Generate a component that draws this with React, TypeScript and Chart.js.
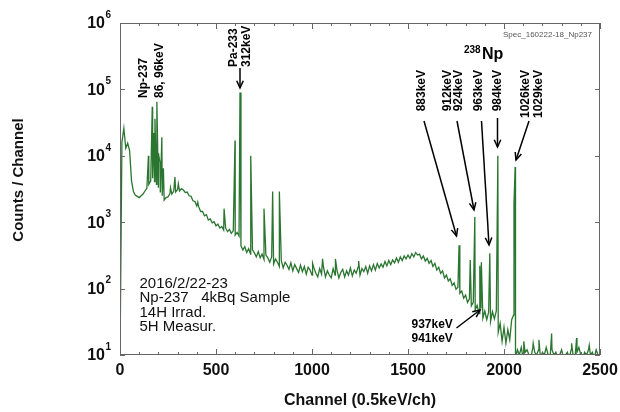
import React, { useEffect, useRef } from "react";
import { Chart, registerables } from "chart.js";

Chart.register(...registerables);

// Spectrum continuum, one reading every 10 channels from channel 0 to 2500
const continuumStep = 10;
const continuumCounts = [
  /*    0 */ 8, 16000, 26000, 13000, 15500, 12000, 4200, 2900, 2550, 2450,
  /*  100 */ 2350, 2500, 2650, 2950, 3250, 3700, 4200, 4600, 4100, 3700,
  /*  200 */ 3300, 2800, 2500, 2150, 2350, 2400, 2700, 2650, 2950, 2850,
  /*  300 */ 3100, 2950, 3200, 3050, 2800, 2850, 2500, 2450, 2100, 2050,
  /*  400 */ 1750, 1700, 1450, 1450, 1250, 1300, 1080, 1120, 980, 1020,
  /*  500 */ 880, 940, 820, 860, 760, 820, 720, 780, 680, 740,
  /*  600 */ 640, 700, 620, 440, 380, 430, 350, 400, 330, 385,
  /*  700 */ 345, 300, 360, 290, 330, 275, 320, 290, 250, 300,
  /*  800 */ 235, 280, 250, 215, 265, 205, 250, 225, 195, 245,
  /*  900 */ 185, 230, 200, 175, 225, 180, 215, 165, 210, 190,
  /* 1000 */ 160, 205, 170, 150, 200, 165, 210, 150, 185, 160,
  /* 1100 */ 145, 200, 160, 190, 145, 175, 195, 150, 185, 160,
  /* 1200 */ 205, 155, 190, 170, 210, 160, 200, 180, 215, 170,
  /* 1300 */ 220, 185, 230, 190, 240, 205, 235, 210, 255, 220,
  /* 1400 */ 265, 230, 270, 245, 290, 250, 300, 265, 310, 280,
  /* 1500 */ 320, 285, 335, 300, 350, 320, 330, 280, 310, 260,
  /* 1600 */ 285, 240, 265, 215, 240, 190, 210, 170, 185, 145,
  /* 1700 */ 160, 130, 140, 112, 122, 98, 105, 85, 92, 72,
  /* 1800 */ 80, 62, 70, 55, 62, 48, 56, 42, 50, 36,
  /* 1900 */ 46, 34, 44, 32, 45, 35, 46, 22, 30, 16,
  /* 2000 */ 26, 15, 24, 17, 34, 40, 9, 12, 10, 13,
  /* 2100 */ 9, 11, 12, 10, 9, 13, 11, 10, 12, 9,
  /* 2200 */ 11, 10, 13, 10, 9, 12, 10, 11, 9, 10,
  /* 2300 */ 12, 9, 10, 11, 9, 12, 10, 9, 11, 13,
  /* 2400 */ 10, 9, 11, 10, 12, 10, 11, 9, 12, 10,
  /* 2500 */ 9,
];

// Gamma peaks (channel, counts at the top)
const peakChannels = [
  148, 168, 176, 182, 192, 200, 208, 218, 226, 263, 286, 304, 405,
  542, 599, 625, 681, 750, 795, 830, 1003, 1055, 1122, 1243,
  1766, 1824, 1848, 1874, 1882, 1926, 1968, 2052, 2058,
  2103, 2152, 2182, 2248, 2352, 2378, 2444,
];
const peakCounts = [
  10000, 55000, 22000, 36000, 65000, 11000, 8000, 19000, 6500, 3300, 4800, 3800, 2000,
  1600, 17000, 90000, 10000, 1600, 2900, 2900, 240, 280, 280, 260,
  450, 270, 1200, 220, 250, 340, 10000, 1900, 6800,
  16, 15, 17, 21, 15, 18, 14,
];

const xTickValues = [0, 500, 1000, 1500, 2000, 2500];
const yTickExponents = [1, 2, 3, 4, 5, 6];

const xTitle = "Channel (0.5keV/ch)";
const yTitle = "Counts / Channel";
const infoLines = ["2016/2/22-23", "Np-237   4kBq Sample", "14H Irrad.", "5H Measur."];
const specId = "Spec_160222-18_Np237";

const FONT = "'Liberation Sans', Arial, Helvetica, sans-serif";

function arrow(ctx: CanvasRenderingContext2D, x1: number, y1: number, x2: number, y2: number) {
  const ang = Math.atan2(y2 - y1, x2 - x1);
  const len = 8;
  const spread = 0.42;
  ctx.beginPath();
  ctx.moveTo(x1, y1);
  ctx.lineTo(x2, y2);
  ctx.stroke();
  ctx.beginPath();
  ctx.moveTo(x2 - len * Math.cos(ang - spread), y2 - len * Math.sin(ang - spread));
  ctx.lineTo(x2, y2);
  ctx.lineTo(x2 - len * Math.cos(ang + spread), y2 - len * Math.sin(ang + spread));
  ctx.stroke();
}

function vtext(ctx: CanvasRenderingContext2D, text: string, cx: number, y: number, align: CanvasTextAlign) {
  ctx.save();
  ctx.translate(cx, y);
  ctx.rotate(-Math.PI / 2);
  ctx.textAlign = align;
  ctx.textBaseline = "middle";
  ctx.fillText(text, 0, 0);
  ctx.restore();
}

const decorPlugin = {
  id: "decor",
  afterDraw(chart: any) {
    const ctx: CanvasRenderingContext2D = chart.ctx;
    const { left, right, top, bottom } = chart.chartArea;
    const xs = chart.scales.x;
    const ys = chart.scales.y;
    ctx.save();

    // frame
    ctx.strokeStyle = "#666";
    ctx.lineWidth = 1;
    ctx.strokeRect(left + 0.5, top + 0.5, right - left - 1, bottom - top - 1);

    // x ticks (inward, top and bottom)
    ctx.beginPath();
    for (let v = 0; v <= 2500; v += 100) {
      const x = Math.round(xs.getPixelForValue(v)) + 0.5;
      const len = v % 500 === 0 ? 6 : 3;
      ctx.moveTo(x, bottom);
      ctx.lineTo(x, bottom - len);
      ctx.moveTo(x, top);
      ctx.lineTo(x, top + len);
    }
    // y ticks
    for (const e of yTickExponents) {
      const y = Math.round(ys.getPixelForValue(Math.pow(10, e))) + 0.5;
      ctx.moveTo(left, y);
      ctx.lineTo(left + 5, y);
      ctx.moveTo(right, y);
      ctx.lineTo(right - 5, y);
    }
    ctx.stroke();

    ctx.fillStyle = "#111";
    // x tick labels
    ctx.font = `bold 16px ${FONT}`;
    ctx.textAlign = "center";
    ctx.textBaseline = "middle";
    for (const v of xTickValues) {
      ctx.fillText(String(v), xs.getPixelForValue(v), 371);
    }
    // y tick labels 10^n
    for (const e of yTickExponents) {
      const y = ys.getPixelForValue(Math.pow(10, e));
      ctx.font = `bold 16px ${FONT}`;
      ctx.textAlign = "right";
      ctx.textBaseline = "middle";
      ctx.fillText("10", 105, y + 1);
      ctx.font = `bold 10px ${FONT}`;
      ctx.textAlign = "left";
      ctx.fillText(String(e), 105.5, y - 8);
    }
    // axis titles
    ctx.font = `bold 16px ${FONT}`;
    ctx.textAlign = "center";
    ctx.textBaseline = "middle";
    ctx.fillText(xTitle, (left + right) / 2, 401);
    ctx.font = `bold 15px ${FONT}`;
    vtext(ctx, yTitle, 19, 180, "center");

    // peak labels
    ctx.fillStyle = "#000";
    ctx.font = `bold 12px ${FONT}`;
    vtext(ctx, "Np-237", 144, 98, "left");
    vtext(ctx, "86, 96keV", 159.5, 98, "left");
    vtext(ctx, "Pa-233", 234, 67, "left");
    vtext(ctx, "312keV", 246.5, 67, "left");
    const rightLabels: [string, number][] = [
      ["883keV", 421.7], ["912keV", 447.5], ["924keV", 459], ["963keV", 479],
      ["984keV", 497.5], ["1026keV", 526], ["1029keV", 538.5],
    ];
    for (const [t, cx] of rightLabels) vtext(ctx, t, cx, 70, "right");

    ctx.textAlign = "left";
    ctx.textBaseline = "alphabetic";
    ctx.fillText("937keV", 411.5, 328);
    ctx.fillText("941keV", 411.5, 342);

    // 238Np
    ctx.font = `bold 10px ${FONT}`;
    ctx.fillText("238", 464, 53);
    ctx.font = `bold 16px ${FONT}`;
    ctx.fillText("Np", 482, 59);

    // spectrum id
    ctx.font = `8px ${FONT}`;
    ctx.fillStyle = "#555";
    ctx.textAlign = "right";
    ctx.fillText(specId, 592, 37);

    // info block
    ctx.fillStyle = "#111";
    ctx.font = `15px ${FONT}`;
    ctx.textAlign = "left";
    infoLines.forEach((t, i) => ctx.fillText(t, 139.5, 287.5 + i * 14.5));

    // arrows
    ctx.strokeStyle = "#000";
    ctx.lineWidth = 1.5;
    arrow(ctx, 240, 68, 240, 88);
    arrow(ctx, 424, 121, 456.5, 236);
    arrow(ctx, 457, 121, 474, 210);
    arrow(ctx, 481.5, 121, 489, 245);
    arrow(ctx, 497.5, 118, 497.5, 147);
    arrow(ctx, 529, 121, 516, 160);
    arrow(ctx, 456.5, 328, 480, 310);

    ctx.restore();
  },
};

export default function App() {
  const ref = useRef<HTMLCanvasElement>(null);
  useEffect(() => {
    if (!ref.current) return;
    const pts = continuumCounts
      .map((y, i) => ({ x: i * continuumStep, y }))
      .concat(peakChannels.map((c, i) => ({ x: c, y: peakCounts[i] })))
      .sort((a, b) => a.x - b.x);
    const chart = new Chart(ref.current, {
      type: "line",
      data: {
        datasets: [
          {
            data: pts,
            borderColor: "#2a7530",
            borderWidth: 1.3,
            pointRadius: 0,
            tension: 0,
            fill: false,
          },
        ],
      },
      options: {
        animation: false,
        responsive: false,
        devicePixelRatio: 1,
        layout: { padding: { left: 0, right: 20, top: 23, bottom: 0 } },
        plugins: { legend: { display: false }, tooltip: { enabled: false }, title: { display: false } },
        scales: {
          x: {
            type: "linear",
            min: 0,
            max: 2500,
            ticks: { display: false },
            grid: { display: false },
            border: { display: false },
            afterFit: (s: any) => { s.height = 57; },
          },
          y: {
            type: "logarithmic",
            min: 10,
            max: 1000000,
            ticks: { display: false },
            grid: { display: false },
            border: { display: false },
            afterFit: (s: any) => { s.width = 120; },
          },
        },
      },
      plugins: [decorPlugin],
    });
    return () => chart.destroy();
  }, []);
  return (
    <div style={{ position: "fixed", left: 0, top: 0, width: 620, height: 412, background: "#fff" }}>
      <canvas ref={ref} width={620} height={412} style={{ width: 620, height: 412 }} />
    </div>
  );
}
